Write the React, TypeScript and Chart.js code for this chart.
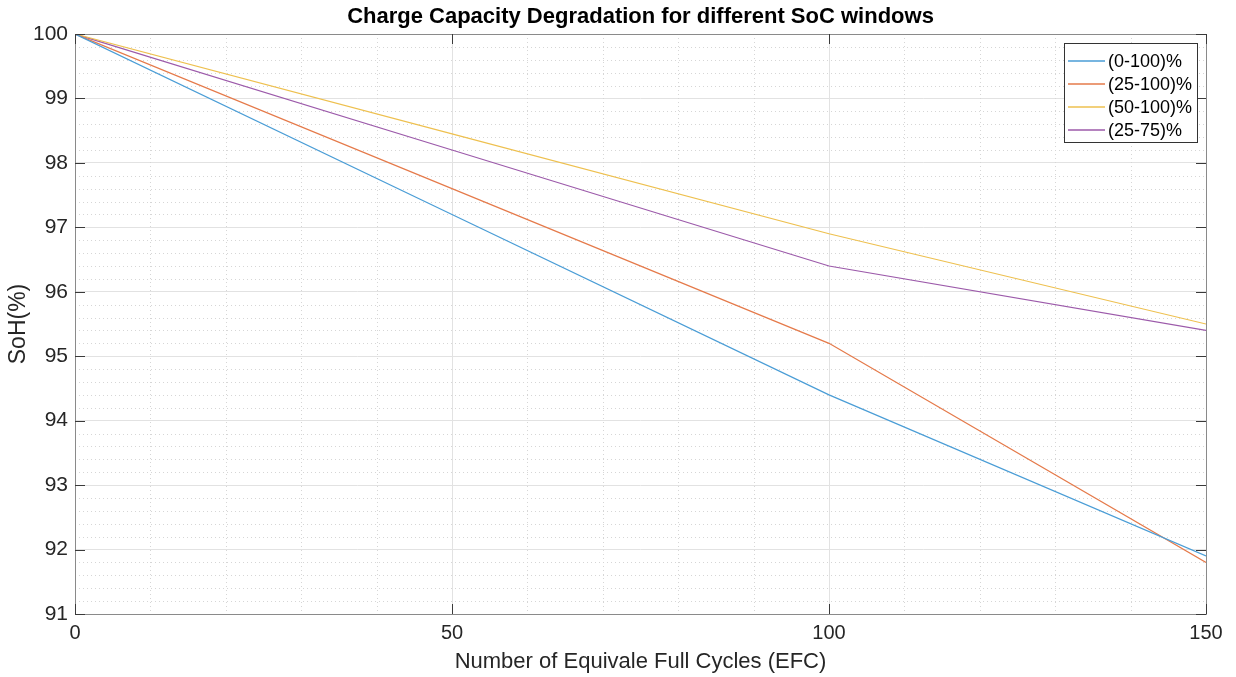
import React, { useEffect, useRef } from "react";
import { Chart, registerables } from "chart.js";

Chart.register(...registerables);

// Equivalent full cycles at which SoH was evaluated
const cycles = [0, 50, 100, 150];

// State of health (%) for each SoC window
const soh0to100 = [100, 97.2, 94.4, 91.9];
const soh25to100 = [100, 97.6, 95.2, 91.8];
const soh50to100 = [100, 98.45, 96.9, 95.5];
const soh25to75 = [100, 98.2, 96.4, 95.4];

const seriesLabels = ["(0-100)%", "(25-100)%", "(50-100)%", "(25-75)%"];
const seriesColors = ["#4a9dd6", "#e57a4a", "#eec04f", "#9c5aaa"];

const xTicks = [0, 50, 100, 150];
const yMin = 91;
const yMax = 100;

const FONT = "'Liberation Sans', Arial, Helvetica, sans-serif";
const TEXT = "#262626";

// MATLAB-like axes decoration: minor dotted grid, full box, inward tick marks
const axesBoxPlugin = {
  id: "axesBox",
  beforeDatasetsDraw(chart: any) {
    const { ctx, chartArea: a, scales } = chart;
    const x = scales.x;
    const y = scales.y;
    ctx.save();
    ctx.strokeStyle = "#d6d6d6";
    ctx.lineWidth = 1;
    ctx.setLineDash([1, 3]);
    for (let v = 10; v < 150; v += 10) {
      if (v % 50 === 0) continue;
      const px = Math.round(x.getPixelForValue(v)) + 0.5;
      ctx.beginPath();
      ctx.moveTo(px, a.top);
      ctx.lineTo(px, a.bottom);
      ctx.stroke();
    }
    for (let i = 1; i < (yMax - yMin) * 5; i++) {
      if (i % 5 === 0) continue;
      const v = yMin + i * 0.2;
      const py = Math.round(y.getPixelForValue(v)) + 0.5;
      ctx.beginPath();
      ctx.moveTo(a.left, py);
      ctx.lineTo(a.right, py);
      ctx.stroke();
    }
    ctx.restore();
  },
  afterDatasetsDraw(chart: any) {
    const { ctx, chartArea: a, scales } = chart;
    const x = scales.x;
    const y = scales.y;
    ctx.save();
    ctx.setLineDash([]);
    // box
    ctx.strokeStyle = "#8a8a8a";
    ctx.lineWidth = 1;
    ctx.strokeRect(Math.round(a.left) + 0.5, Math.round(a.top) + 0.5, Math.round(a.right - a.left), Math.round(a.bottom - a.top));
    // ticks
    ctx.strokeStyle = "#3a3a3a";
    const tl = 10;
    xTicks.forEach((v) => {
      const px = Math.round(x.getPixelForValue(v)) + 0.5;
      ctx.beginPath();
      ctx.moveTo(px, a.bottom);
      ctx.lineTo(px, a.bottom - tl);
      ctx.moveTo(px, a.top);
      ctx.lineTo(px, a.top + tl);
      ctx.stroke();
    });
    for (let v = yMin; v <= yMax; v++) {
      const py = Math.round(y.getPixelForValue(v)) + 0.5;
      ctx.beginPath();
      ctx.moveTo(a.left, py);
      ctx.lineTo(a.left + tl, py);
      ctx.moveTo(a.right, py);
      ctx.lineTo(a.right - tl, py);
      ctx.stroke();
    }
    ctx.restore();
  },
  afterDraw(chart: any) {
    const { ctx, chartArea: a } = chart;
    ctx.save();
    // title
    ctx.fillStyle = "#000";
    ctx.font = `bold 22px ${FONT}`;
    ctx.textAlign = "center";
    ctx.textBaseline = "middle";
    ctx.fillText("Charge Capacity Degradation for different SoC windows", (a.left + a.right) / 2, 17);

    // legend
    const bx = 1064.5;
    const by = 43.5;
    const bw = 133;
    const bh = 99;
    ctx.fillStyle = "#fff";
    ctx.fillRect(bx, by, bw, bh);
    ctx.strokeStyle = "#333";
    ctx.lineWidth = 1;
    ctx.strokeRect(bx, by, bw, bh);
    ctx.font = `18px ${FONT}`;
    ctx.textAlign = "left";
    ctx.textBaseline = "middle";
    chart.data.datasets.forEach((ds: any, i: number) => {
      const ry = 61 + i * 23;
      ctx.strokeStyle = ds.borderColor;
      ctx.lineWidth = 1.5;
      ctx.beginPath();
      ctx.moveTo(1068, ry);
      ctx.lineTo(1105, ry);
      ctx.stroke();
      ctx.fillStyle = "#000";
      ctx.fillText(ds.label, 1108, ry + 1);
    });
    ctx.restore();
  },
};

export default function App() {
  const ref = useRef<HTMLCanvasElement | null>(null);

  useEffect(() => {
    document.body.style.margin = "0";
    const values = [soh0to100, soh25to100, soh50to100, soh25to75];
    const chart = new Chart(ref.current as HTMLCanvasElement, {
      type: "line",
      data: {
        datasets: values.map((vals, i) => ({
          label: seriesLabels[i],
          data: cycles.map((c, j) => ({ x: c, y: vals[j] })),
          borderColor: seriesColors[i],
          backgroundColor: seriesColors[i],
          borderWidth: 1.2,
          pointRadius: 0,
          tension: 0,
          fill: false,
        })),
      },
      options: {
        responsive: false,
        animation: false,
        layout: { padding: { left: 0, top: 34, right: 30, bottom: 0 } },
        plugins: {
          legend: { display: false },
          title: { display: false },
          tooltip: { enabled: false },
        },
        scales: {
          x: {
            type: "linear",
            min: 0,
            max: 150,
            afterBuildTicks: (s: any) => {
              s.ticks = xTicks.map((v) => ({ value: v }));
            },
            afterFit: (s: any) => {
              s.height = 63;
            },
            ticks: {
              padding: 7,
              color: TEXT,
              font: { family: FONT, size: 20 },
              maxRotation: 0,
            },
            grid: { color: "#e2e2e2", drawTicks: false },
            border: { display: false },
            title: {
              display: true,
              text: "Number of Equivale Full Cycles (EFC)",
              color: TEXT,
              font: { family: FONT, size: 22 },
              padding: { top: 0, bottom: 2 },
            },
          },
          y: {
            type: "linear",
            min: yMin,
            max: yMax,
            ticks: {
              stepSize: 1,
              padding: 7,
              color: TEXT,
              font: { family: FONT, size: 21 },
            },
            afterFit: (s: any) => {
              s.width = 75;
            },
            grid: { color: "#e2e2e2", drawTicks: false },
            border: { display: false },
            title: {
              display: true,
              text: "SoH(%)",
              color: TEXT,
              font: { family: FONT, size: 23 },
              padding: { top: 5, bottom: 0 },
            },
          },
        },
      },
      plugins: [axesBoxPlugin],
    });
    return () => chart.destroy();
  }, []);

  return (
    <div style={{ position: "absolute", left: 0, top: 0, width: 1236, height: 677, background: "#fff" }}>
      <canvas ref={ref} width={1236} height={677} />
    </div>
  );
}
